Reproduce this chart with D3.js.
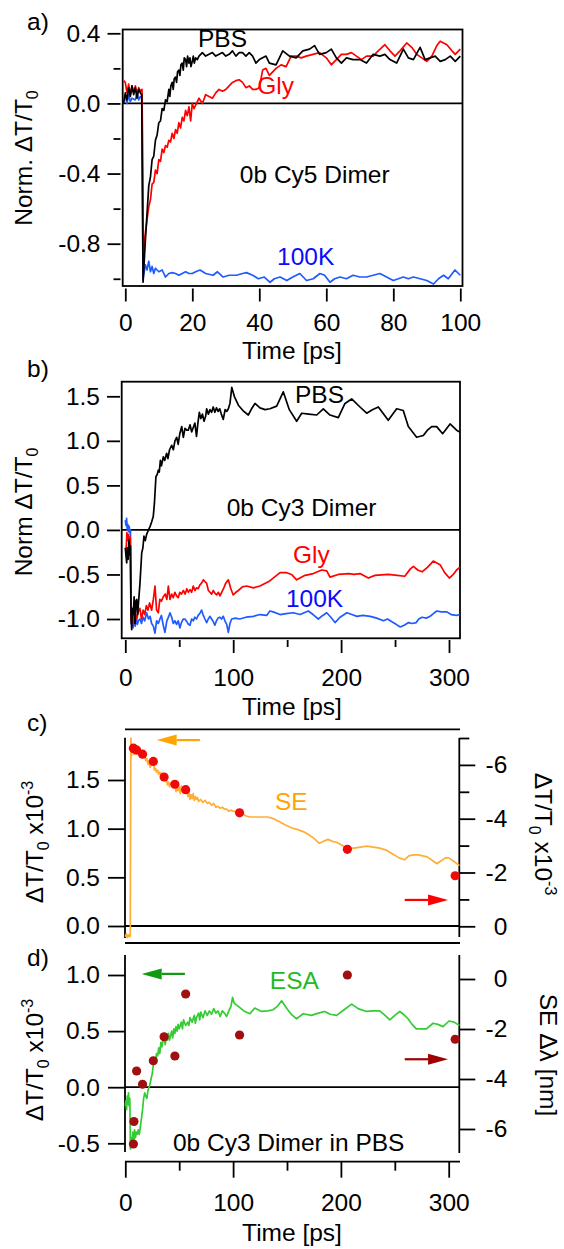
<!DOCTYPE html>
<html>
<head>
<meta charset="utf-8">
<script src="https://cdn.jsdelivr.net/npm/d3@7/dist/d3.min.js"></script>
<style>
body { margin: 0; background: #fff; }
svg text { font-family: "Liberation Sans", Arial, Helvetica, sans-serif; }
</style>
</head>
<body>
<svg id="chart" width="564" height="1249"></svg>
<script>
// ---- panel a) 0b Cy5 dimer, [time ps, norm dT/T0]
var pbsA = [[-0.5,0.0],[0,0.06],[0.5,0.02],[1,0.09],[1.5,0.04],[2,0.1],[2.5,0.05],[3,0.09],[3.5,0.03],[4,0.08],[4.5,0.06],[4.9,0.05],[5.3,-1.02],[6,-0.78],[7,-0.47],[7.5,-0.42],[8,-0.32],[8.5,-0.3],[9,-0.21],[9.5,-0.18],[10,-0.11],[10.5,-0.1],[11,-0.03],[11.5,-0.04],[12,0.02],[12.5,0.01],[13,0.08],[13.3,0.04],[13.6,0.1],[14,0.12],[14.3,0.08],[14.6,0.14],[15,0.15],[15.3,0.12],[15.6,0.18],[16,0.19],[16.3,0.16],[16.6,0.22],[17,0.23],[17.3,0.19],[17.6,0.26],[18,0.25],[18.3,0.21],[18.6,0.27],[19,0.23],[19.3,0.26],[19.6,0.21],[20,0.24],[20.3,0.27],[20.6,0.23],[21,0.26],[21.5,0.25],[22,0.27],[23,0.29],[24,0.27],[25,0.28],[26,0.29],[27,0.27],[28,0.28],[29,0.29],[30,0.27],[31,0.28],[32,0.3],[33,0.27],[34,0.29],[35,0.29],[36,0.27],[37,0.29],[38,0.27],[39,0.23],[40,0.25],[42,0.27],[43,0.23],[45,0.22],[47,0.3],[49,0.27],[51,0.26],[53,0.3],[55,0.31],[56.5,0.33],[58,0.28],[60,0.29],[61.5,0.31],[63,0.26],[64.5,0.23],[66,0.26],[68,0.25],[70,0.25],[72,0.23],[74,0.28],[76,0.27],[77.5,0.28],[79,0.25],[81,0.23],[83,0.31],[84.5,0.26],[86,0.25],[88,0.32],[89.5,0.25],[91,0.26],[92.5,0.27],[94,0.24],[95.5,0.25],[97,0.27],[98.5,0.24],[100,0.27]];
var glyA = [[-0.5,0.13],[0,0.12],[0.5,0.06],[1,0.11],[1.5,0.05],[2,0.1],[2.5,0.06],[3,0.1],[3.5,0.05],[4,0.09],[4.5,0.07],[5,0.08],[5.4,-0.85],[6,-0.74],[6.5,-0.66],[7,-0.59],[7.5,-0.55],[8,-0.46],[8.5,-0.45],[9,-0.38],[9.5,-0.4],[10,-0.32],[10.5,-0.33],[11,-0.26],[11.5,-0.28],[12,-0.24],[12.5,-0.25],[13,-0.21],[13.5,-0.22],[14,-0.17],[14.5,-0.2],[15,-0.15],[15.5,-0.17],[16,-0.11],[16.5,-0.14],[17,-0.08],[17.5,-0.1],[18,-0.04],[18.5,-0.07],[19,-0.02],[19.5,-0.1],[20,0.0],[20.5,-0.03],[21,-0.01],[22,0.03],[23,0.0],[24,0.05],[25,0.04],[26,0.03],[27,0.06],[28,0.08],[29,0.07],[30,0.08],[31,0.1],[32,0.12],[33,0.13],[34,0.135],[35,0.12],[36,0.09],[37,0.1],[38,0.08],[39,0.08],[40,0.09],[41,0.19],[42,0.2],[43,0.16],[44,0.18],[45,0.2],[46.5,0.22],[48,0.21],[49.5,0.27],[51,0.27],[52.5,0.26],[54,0.27],[56,0.28],[58,0.29],[60,0.26],[61.5,0.22],[63,0.25],[64.5,0.28],[66,0.28],[67.5,0.29],[69,0.27],[70.5,0.25],[72,0.27],[74,0.27],[75.5,0.3],[77.5,0.335],[79,0.3],[80.5,0.27],[82,0.3],[84,0.345],[85.5,0.32],[87,0.28],[88.5,0.26],[90,0.24],[91.5,0.27],[93,0.33],[94,0.355],[96,0.335],[97.5,0.3],[98.5,0.28],[100,0.31]];
var k100A = [[-0.5,0.02],[0,0.04],[0.5,0.0],[1,0.05],[1.5,0.01],[2,0.03],[3,0.02],[3.5,0.06],[4,0.02],[4.5,0.04],[5,0.03],[5.3,-1.0],[6,-0.92],[6.5,-0.95],[7,-0.9],[7.5,-0.96],[8,-0.93],[8.5,-0.97],[9,-0.94],[10,-0.96],[11,-0.95],[12,-0.99],[13,-0.97],[14,-0.965],[15,-0.97],[16,-0.98],[17,-0.97],[18,-0.96],[19,-0.97],[20,-0.97],[21,-0.96],[22.3,-0.95],[24,-0.97],[26.2,-0.98],[27.5,-0.96],[29.2,-0.99],[31,-0.98],[33.2,-0.98],[35,-0.97],[36.2,-0.965],[38,-0.98],[39.7,-1.0],[41.5,-0.99],[43.2,-1.02],[44.5,-1.0],[46.2,-0.99],[48.2,-1.01],[50,-0.99],[52.1,-0.97],[54.1,-1.01],[56.1,-1.0],[58.1,-0.97],[59.5,-0.98],[61.1,-1.02],[62.5,-1.0],[64.1,-0.99],[66,-1.0],[68,-0.98],[70,-0.99],[72,-0.99],[74,-0.98],[76,-0.97],[78,-0.99],[80,-1.01],[81.5,-1.0],[83,-0.99],[84.5,-1.0],[86,-0.99],[88,-1.0],[90,-1.01],[92,-1.03],[93.5,-1.0],[95,-0.98],[96.4,-1.0],[98.4,-0.95],[100,-0.98]];

// ---- panel b) 0b Cy3 dimer
var pbsB = [[0,-0.2],[0.7,-0.3],[1.3,-0.37],[2,-0.2],[2.7,-0.33],[3.4,-0.11],[4.1,-0.28],[4.8,-0.18],[5.3,-0.95],[5.9,-1.12],[6.6,-0.88],[7.4,-0.95],[8.2,-0.75],[9,-1.05],[9.8,-0.8],[10.6,-0.78],[11.4,-0.95],[12.2,-0.82],[13.6,-0.6],[15.2,-0.26],[16.3,-0.2],[17.3,-0.07],[18.5,-0.12],[19.8,-0.05],[21.5,0.0],[23,0.04],[24.4,0.09],[25.9,0.15],[27,0.3],[28.4,0.6],[29.5,0.62],[30.6,0.67],[31.5,0.65],[32.5,0.78],[33.5,0.72],[35.2,0.82],[36.5,0.78],[38.3,0.86],[39.5,0.8],[41,0.9],[43,0.95],[44.5,0.9],[46,1.0],[47.6,1.04],[49,0.96],[50.5,1.08],[52.3,1.16],[53.8,1.04],[55.3,1.14],[57,1.12],[58.4,1.12],[60,1.18],[61.5,1.1],[63,1.15],[64.5,1.2],[66,1.05],[67.3,1.2],[68.6,1.32],[70,1.25],[71.5,1.3],[73,1.22],[74.5,1.28],[75.4,1.36],[77,1.3],[78.5,1.35],[80,1.32],[81.5,1.38],[83,1.32],[84.5,1.37],[86,1.33],[87.5,1.36],[89,1.3],[90.8,1.24],[92.5,1.35],[94,1.33],[95.5,1.36],[97,1.42],[98.7,1.6],[101,1.5],[104.8,1.4],[109,1.34],[114,1.29],[117,1.36],[120.2,1.42],[124.8,1.37],[129.5,1.35],[134,1.36],[140.3,1.39],[146.4,1.55],[152,1.35],[158.8,1.22],[163.5,1.31],[170,1.3],[177.4,1.29],[183.5,1.36],[189.7,1.29],[197.4,1.26],[203.6,1.42],[209.8,1.47],[217.5,1.38],[223.7,1.31],[229,1.35],[234.5,1.38],[243.7,1.23],[251.5,1.36],[257.6,1.34],[262.3,1.16],[270,1.04],[276.2,1.06],[280,1.12],[284,1.16],[288.6,1.16],[294.1,1.08],[301,1.19],[307,1.12],[310,1.1]];
var glyB = [[0,-0.2],[0.8,-0.22],[1.5,-0.03],[2.2,-0.12],[3,-0.05],[3.8,-0.18],[4.5,-0.08],[5.3,-1.0],[6,-1.05],[7.4,-0.9],[8.5,-1.05],[9.5,-0.95],[10.6,-1.0],[12,-0.92],[13.5,-0.88],[15,-1.0],[16.5,-0.9],[18,-0.95],[19.5,-0.85],[21,-0.9],[22.5,-0.82],[24.4,-0.9],[26,-0.78],[27.5,-0.63],[29,-0.9],[30.6,-0.93],[32,-0.78],[33.5,-0.8],[35.2,-0.75],[37,-0.72],[38.5,-0.78],[39.9,-0.63],[41.4,-0.78],[43,-0.72],[44.5,-0.76],[46,-0.7],[47.5,-0.74],[49.1,-0.76],[50.5,-0.7],[52,-0.72],[53.8,-0.68],[55.5,-0.72],[57,-0.66],[58.4,-0.7],[60,-0.67],[61.5,-0.7],[63,-0.63],[64.5,-0.68],[66,-0.65],[67.6,-0.66],[69,-0.62],[70.5,-0.6],[72.3,-0.56],[73.8,-0.58],[75.4,-0.6],[77,-0.68],[78.5,-0.7],[80,-0.72],[81.5,-0.68],[83,-0.71],[84.7,-0.73],[86.3,-0.7],[87.8,-0.74],[89.3,-0.7],[91,-0.66],[93,-0.6],[95.5,-0.56],[97.5,-0.65],[100,-0.73],[102.5,-0.7],[104.8,-0.68],[108.5,-0.64],[112.5,-0.63],[118.7,-0.65],[124.8,-0.63],[133,-0.58],[143.4,-0.48],[149.6,-0.48],[154,-0.5],[158.8,-0.56],[166.6,-0.51],[174.3,-0.49],[182,-0.45],[186.7,-0.46],[189.7,-0.53],[197.4,-0.5],[207,-0.49],[212,-0.5],[217.5,-0.49],[225.2,-0.54],[231.4,-0.51],[243.7,-0.5],[252,-0.51],[259,-0.52],[264,-0.44],[267,-0.41],[271,-0.45],[275,-0.47],[280,-0.42],[285.4,-0.35],[291.7,-0.39],[296,-0.48],[300.3,-0.54],[304,-0.5],[307,-0.45],[310,-0.42]];
var k100B = [[0,0.11],[0.6,0.05],[1.2,0.13],[1.8,0.0],[2.4,0.06],[3,-0.02],[3.6,0.04],[4.2,-0.03],[4.8,0.0],[5.4,-1.05],[6.3,-0.98],[7.2,-1.1],[8.2,-1.0],[9.2,-1.08],[10.2,-0.98],[11.2,-1.06],[12.2,-1.02],[13.6,-1.0],[15,-1.05],[16.5,-0.98],[18,-1.02],[19.8,-0.93],[21.5,-1.0],[23,-0.97],[24.4,-1.05],[26,-1.08],[27.5,-1.16],[29,-1.02],[30.6,-1.05],[32.1,-1.0],[33.5,-0.96],[35,-1.06],[36.7,-1.15],[38.5,-1.02],[40,-0.98],[41.4,-0.93],[43,-0.98],[44.5,-1.05],[46,-1.02],[47.5,-1.06],[49,-1.02],[50.6,-1.1],[52,-1.04],[53.8,-1.0],[55.3,-1.0],[57,-1.03],[58.5,-1.06],[59.9,-1.07],[61.5,-1.0],[63,-1.02],[64.5,-0.98],[66,-1.0],[67.5,-0.96],[69,-0.94],[70.7,-0.9],[72.3,-0.96],[73.8,-1.0],[75.4,-1.04],[76.9,-1.0],[78.4,-0.97],[80,-1.0],[81.5,-1.03],[83,-1.07],[84.5,-1.02],[86,-0.99],[87.7,-0.98],[89.2,-1.0],[90.8,-0.97],[92.3,-1.02],[94,-1.06],[95.5,-1.15],[97,-1.05],[98.6,-1.0],[102,-0.99],[106,-1.0],[112,-0.98],[118.7,-0.97],[124.8,-0.95],[131,-0.96],[134,-0.91],[137,-0.92],[143.4,-0.95],[149,-0.94],[155.7,-0.93],[162,-0.95],[169.6,-0.91],[174,-0.95],[178.9,-1.0],[183,-0.96],[186.7,-0.93],[190.5,-0.98],[194.4,-1.04],[199,-0.98],[205.4,-0.93],[210,-0.95],[214.6,-0.97],[220,-0.96],[227,-0.97],[233,-0.99],[239.3,-1.02],[243,-1.0],[247,-1.03],[251,-1.06],[254.8,-1.09],[258.5,-1.07],[262.5,-1.04],[266,-1.05],[269.6,-1.04],[272,-1.0],[275,-0.98],[279,-0.99],[282.5,-0.97],[285.5,-0.94],[288.7,-0.91],[293,-0.92],[298,-0.92],[302,-0.95],[307,-0.96],[310,-0.95]];

// ---- panel c) SE trace (left axis, x1e-3) and SE amplitude points (right axis, x1e-3)
var seC = [[0,-0.11],[1,-0.08],[2,-0.12],[3,-0.09],[4,-0.11],[4.6,-0.1],[5.2,1.93],[5.8,1.75],[6.4,1.86],[7,1.79],[7.6,1.84],[8.2,1.76],[8.8,1.83],[9.5,1.8],[10.5,1.82],[11.5,1.78],[12.5,1.8],[13.5,1.76],[14.5,1.78],[16,1.77],[17,1.73],[18,1.75],[19,1.7],[20,1.72],[21,1.66],[22,1.7],[23,1.63],[24,1.66],[25,1.68],[26,1.69],[27,1.6],[28,1.62],[29,1.58],[30,1.6],[31,1.56],[32,1.58],[33,1.55],[34,1.57],[35,1.54],[36,1.52],[37,1.49],[38,1.51],[39,1.45],[40,1.48],[41,1.43],[42,1.47],[43,1.46],[44,1.42],[45,1.47],[46,1.46],[47,1.38],[48,1.42],[49,1.39],[50,1.43],[51,1.36],[52,1.44],[53,1.41],[54,1.37],[55,1.42],[56,1.4],[57,1.44],[58,1.33],[59,1.38],[60,1.3],[61,1.35],[62,1.31],[63,1.36],[64,1.29],[65,1.33],[66,1.3],[67,1.32],[68,1.28],[70,1.3],[72,1.27],[74,1.29],[76,1.26],[78,1.27],[80,1.24],[82,1.26],[84,1.22],[86,1.23],[88,1.21],[90,1.22],[92,1.2],[94,1.2],[96,1.18],[98,1.19],[100,1.18],[104,1.17],[108,1.16],[112,1.13],[116,1.12],[120,1.12],[126,1.12],[132,1.12],[138,1.1],[143,1.07],[148,1.04],[154,1.01],[160,0.99],[165,0.97],[170,0.94],[175,0.9],[180,0.85],[184,0.87],[188,0.89],[192,0.87],[196,0.86],[201,0.83],[206,0.8],[212,0.8],[218,0.81],[224,0.82],[230,0.81],[236,0.8],[242,0.78],[248,0.74],[254,0.7],[259,0.68],[263,0.72],[267,0.73],[272,0.73],[276,0.72],[280,0.71],[284,0.68],[289,0.64],[293,0.67],[297,0.7],[300,0.7],[304,0.67],[310,0.62]];
var dotT = [7.5, 8, 10.5, 16, 26, 36, 46, 56, 106, 206, 306];
var seAmpC = [-6.62, -6.6, -6.55, -6.4, -6.13, -5.55, -5.28, -5.08, -4.22, -2.86, -1.88];

// ---- panel d) ESA trace (left axis, x1e-3) and SE shift points (right axis, nm)
var esaD = [[0,-0.17],[0.6,-0.12],[1.2,-0.2],[1.8,-0.08],[2.4,-0.15],[3,-0.05],[3.6,-0.17],[4.2,-0.1],[4.8,-0.55],[5.5,-0.45],[6.2,-0.52],[7,-0.4],[7.8,-0.5],[8.6,-0.38],[9.4,-0.45],[10.2,-0.4],[11,-0.42],[12,-0.38],[13,-0.42],[14,-0.35],[15,-0.28],[16,-0.2],[17,-0.1],[18,-0.05],[19,-0.08],[20,-0.1],[21,-0.03],[22,0.0],[23,0.03],[24,0.08],[25,0.12],[26,0.2],[27,0.25],[28,0.22],[29,0.3],[30,0.28],[31,0.35],[32,0.3],[33,0.4],[34,0.36],[35,0.42],[36,0.45],[37,0.38],[38,0.44],[39,0.42],[40,0.48],[41,0.42],[42,0.46],[43,0.5],[44,0.44],[45,0.52],[46,0.48],[47,0.54],[48,0.5],[49,0.56],[50,0.52],[52,0.58],[53,0.52],[54,0.6],[56,0.55],[58,0.58],[59,0.55],[60,0.62],[62,0.58],[64,0.64],[65,0.57],[66,0.62],[68,0.66],[69,0.6],[70,0.67],[72,0.62],[74,0.68],[76,0.64],[78,0.68],[80,0.65],[82,0.7],[84,0.66],[86,0.68],[88,0.63],[90,0.68],[92,0.66],[94,0.63],[96,0.68],[98,0.72],[99.5,0.8],[101,0.75],[104.8,0.72],[110,0.68],[115.6,0.655],[120,0.705],[126.4,0.675],[132,0.68],[137,0.69],[141,0.72],[145,0.77],[150,0.7],[154,0.65],[158.8,0.61],[165,0.655],[172.7,0.64],[179,0.66],[185,0.675],[190,0.65],[196,0.64],[203,0.69],[210,0.74],[216,0.7],[223.7,0.675],[230,0.68],[236,0.68],[241,0.64],[245.4,0.6],[250,0.64],[254.6,0.675],[258,0.65],[262.3,0.61],[266,0.56],[270,0.52],[275,0.52],[279.3,0.52],[285.5,0.57],[290,0.56],[294.7,0.54],[300.3,0.59],[305,0.58],[310,0.55]];
var seShiftD = [-6.6, -5.7, -3.68, -4.21, -3.27, -2.31, -3.08, -0.6, -2.24, 0.16, -2.41];

// ticks
var ticksAx = [0, 20, 40, 60, 80, 100];
var ticksAy = [0.4, 0.0, -0.4, -0.8];
var ticksAyMinor = [0.2, -0.2, -0.6, -1.0];
var ticksBy = [1.5, 1.0, 0.5, 0.0, -0.5, -1.0];
var ticksTime = [0, 100, 200, 300];
var ticksTimeMinor = [50, 150, 250];
var ticksCy = [0.0, 0.5, 1.0, 1.5];
var ticksCr = [0, -2, -4, -6];
var ticksCrMinor = [-1, -3, -5, -7];
var ticksDy = [-0.5, 0.0, 0.5, 1.0];
var ticksDr = [0, -2, -4, -6];

var svg = d3.select("#chart");
var FONT = "Liberation Sans, Arial, Helvetica, sans-serif";
var FS = 24.5;
var LW = 1.7;

function fmt1(d) { return d.toFixed(1); }
function fmt0(d) { return d.toFixed(0); }

function styleAxis(g) {
    g.select(".domain").remove();
    g.selectAll("line").attr("stroke", "#000").attr("stroke-width", 1.8);
    g.selectAll("text").attr("font-size", FS).attr("font-family", FONT).attr("fill", "#000");
    return g;
}

function trace(data, x, y, color) {
    svg.append("path").datum(data)
        .attr("fill", "none")
        .attr("stroke", color)
        .attr("stroke-width", LW)
        .attr("stroke-linejoin", "round")
        .attr("d", d3.line().x(function(d) { return x(d[0]); }).y(function(d) { return y(d[1]); }));
}

function hline(x1, x2, y) {
    svg.append("line").attr("x1", x1).attr("x2", x2).attr("y1", y).attr("y2", y)
        .attr("stroke", "#000").attr("stroke-width", 1.8);
}
function vline(x, y1, y2) {
    svg.append("line").attr("x1", x).attr("x2", x).attr("y1", y1).attr("y2", y2)
        .attr("stroke", "#000").attr("stroke-width", 1.8);
}

function label(txt, x, y, color, anchor) {
    return svg.append("text").attr("x", x).attr("y", y)
        .attr("font-size", FS).attr("fill", color || "#000")
        .attr("text-anchor", anchor || "start").text(txt);
}

// arrow: tail at x1, tip at x2
function arrow(x1, x2, y, color) {
    var dir = x2 > x1 ? 1 : -1;
    var hl = 20, hw = 5.5;
    svg.append("line").attr("x1", x1).attr("x2", x2 - dir * hl).attr("y1", y).attr("y2", y)
        .attr("stroke", color).attr("stroke-width", 2.2);
    svg.append("path")
        .attr("d", "M" + x2 + "," + y + "L" + (x2 - dir * hl) + "," + (y - hw) + "L" + (x2 - dir * hl) + "," + (y + hw) + "Z")
        .attr("fill", color);
}

// rotated axis title; parts = [[text, dy, size], ...]
function vtitle(cx, cy, angle, parts) {
    var t = svg.append("text")
        .attr("transform", "translate(" + cx + "," + cy + ") rotate(" + angle + ")")
        .attr("text-anchor", "middle").attr("font-size", FS).attr("fill", "#000");
    parts.forEach(function(p) {
        t.append("tspan").attr("dy", p[1]).attr("font-size", p[2] || FS).text(p[0]);
    });
}

function panelLetter(txt, y) {
    svg.append("text").attr("x", 27).attr("y", y).attr("font-size", FS).attr("fill", "#000").text(txt);
}

// ================= panel a =================
var xA = d3.scaleLinear().domain([0, 100]).range([125.3, 460.3]);
var yA = d3.scaleLinear().domain([0.4, -0.8]).range([33.3, 243.7]);

svg.append("rect").attr("x", 122.7).attr("y", 29.5).attr("width", 339.8).attr("height", 256.5)
    .attr("fill", "none").attr("stroke", "#000").attr("stroke-width", 1.8);
hline(122.7, 462.5, yA(0));

styleAxis(svg.append("g").attr("transform", "translate(120.5,0)")
    .call(d3.axisLeft(yA).tickValues(ticksAy).tickSize(13).tickPadding(7).tickFormat(fmt1)));
styleAxis(svg.append("g").attr("transform", "translate(120.5,0)")
    .call(d3.axisLeft(yA).tickValues(ticksAyMinor).tickSize(7).tickFormat("")));
styleAxis(svg.append("g").attr("transform", "translate(0,288.5)")
    .call(d3.axisBottom(xA).tickValues(ticksAx).tickSize(13).tickPadding(12).tickFormat(fmt0)));

trace(k100A, xA, yA, "#1f5bff");
trace(glyA, xA, yA, "#ff0000");
trace(pbsA, xA, yA, "#000");

label("PBS", xA(21.7), yA(0.324));
label("Gly", xA(39.4), yA(0.055), "#ff0000");
label("0b Cy5 Dimer", xA(34.2), yA(-0.453));
label("100K", xA(45.3), yA(-0.92), "#0a0aff");

label("Time [ps]", 292, 359, "#000", "middle");
vtitle(32, 158, -90, [["Norm. \u0394T/T", 0], ["0", 6, 16]]);
panelLetter("a)", 30);

// ================= panel b =================
var xB = d3.scaleLinear().domain([0, 300]).range([125.3, 449]);
var yB = d3.scaleLinear().domain([1.5, -1.0]).range([396.3, 619]);

svg.append("rect").attr("x", 121.7).attr("y", 381.7).attr("width", 338.3).attr("height", 256.6)
    .attr("fill", "none").attr("stroke", "#000").attr("stroke-width", 1.8);
hline(121.7, 460, yB(0));

styleAxis(svg.append("g").attr("transform", "translate(120,0)")
    .call(d3.axisLeft(yB).tickValues(ticksBy).tickSize(13).tickPadding(7).tickFormat(fmt1)));
styleAxis(svg.append("g").attr("transform", "translate(0,640)")
    .call(d3.axisBottom(xB).tickValues(ticksTime).tickSize(13).tickPadding(16).tickFormat(fmt0)));
styleAxis(svg.append("g").attr("transform", "translate(0,640)")
    .call(d3.axisBottom(xB).tickValues(ticksTimeMinor).tickSize(7).tickFormat("")));

trace(k100B, xB, yB, "#1f5bff");
trace(glyB, xB, yB, "#ff0000");
trace(pbsB, xB, yB, "#000");

label("PBS", xB(157.3), yB(1.43));
label("0b Cy3 Dimer", xB(94), yB(0.157));
label("Gly", xB(155.4), yB(-0.37), "#ff0000");
label("100K", xB(148.9), yB(-0.86), "#0a0aff");

label("Time [ps]", 292, 715, "#000", "middle");
vtitle(32, 512, -90, [["Norm \u0394T/T", 0], ["0", 6, 16]]);
panelLetter("b)", 377);

// ================= panel c =================
var xC = d3.scaleLinear().domain([0, 300]).range([125.3, 448.7]);
var yC = d3.scaleLinear().domain([1.5, 0]).range([780, 926]);
var yCr = d3.scaleLinear().domain([0, -7]).range([926.3, 738]);

hline(125, 460, 729.3);
vline(125, 737.7, 938);
vline(459.3, 738, 937);
hline(125, 459.3, yC(0));

styleAxis(svg.append("g").attr("transform", "translate(125,0)")
    .call(d3.axisLeft(yC).tickValues(ticksCy).tickSize(17).tickPadding(8).tickFormat(fmt1)));
var rc = styleAxis(svg.append("g").attr("transform", "translate(459.3,0)")
    .call(d3.axisRight(yCr).tickValues(ticksCr).tickSize(16).tickFormat(fmt0)));
rc.selectAll("text").attr("text-anchor", "end").attr("x", 48);
styleAxis(svg.append("g").attr("transform", "translate(459.3,0)")
    .call(d3.axisRight(yCr).tickValues(ticksCrMinor).tickSize(10).tickFormat("")));

trace(seC, xC, yC, "#ffae35");
svg.append("g").selectAll("circle").data(dotT).enter().append("circle")
    .attr("cx", function(d) { return xC(d); })
    .attr("cy", function(d, i) { return yCr(seAmpC[i]); })
    .attr("r", 4.6).attr("fill", "#ee0a0a");

label("SE", xC(138.8), yC(1.19), "#ffa500");
arrow(xC(69.2), xC(29.1), yC(1.91), "#ffa500");
arrow(xC(259.2), xC(299.4), yCr(-0.98), "#ff0000");

vtitle(43, 842, -90, [["\u0394T/T", 0], ["0", 6, 16], [" x10", -6], ["-3", -10, 16]]);
vtitle(535, 834, 90, [["\u0394T/T", 0], ["0", 6, 16], [" x10", -6], ["-3", -10, 16]]);
panelLetter("c)", 731);

// ================= panel d =================
var xD = d3.scaleLinear().domain([0, 300]).range([125.3, 448.7]);
var yD = d3.scaleLinear().domain([1.0, -0.5]).range([975, 1143.3]);
var yDr = d3.scaleLinear().domain([0, -6]).range([979, 1129]);

hline(125, 460, 943);
vline(125, 955, 1152);
vline(459.3, 955, 1153);
hline(125, 460, 1161.7);
hline(125, 459.3, yD(0));

styleAxis(svg.append("g").attr("transform", "translate(125,0)")
    .call(d3.axisLeft(yD).tickValues(ticksDy).tickSize(17).tickPadding(8).tickFormat(fmt1)));
var rd = styleAxis(svg.append("g").attr("transform", "translate(459.3,0)")
    .call(d3.axisRight(yDr).tickValues(ticksDr).tickSize(16).tickFormat(fmt0)));
rd.selectAll("text").attr("text-anchor", "end").attr("x", 48);
styleAxis(svg.append("g").attr("transform", "translate(0,1161.7)")
    .call(d3.axisBottom(xD).tickValues(ticksTime).tickSize(16).tickPadding(16).tickFormat(fmt0)));
styleAxis(svg.append("g").attr("transform", "translate(0,1161.7)")
    .call(d3.axisBottom(xD).tickValues(ticksTimeMinor).tickSize(9).tickFormat("")));

trace(esaD, xD, yD, "#33cc33");
svg.append("g").selectAll("circle").data(dotT).enter().append("circle")
    .attr("cx", function(d) { return xD(d); })
    .attr("cy", function(d, i) { return yDr(seShiftD[i]); })
    .attr("r", 4.6).attr("fill", "#a01010");

label("ESA", xD(134.1), yD(0.878), "#22bb22");
label("0b Cy3 Dimer in PBS", xD(44.2), yD(-0.569));
arrow(xD(55.3), xD(15.2), yD(1.01), "#119911");
arrow(xD(259.2), xD(299.4), yDr(-3.21), "#a00000");

label("Time [ps]", 292, 1241, "#000", "middle");
vtitle(43, 1060, -90, [["\u0394T/T", 0], ["0", 6, 16], [" x10", -6], ["-3", -10, 16]]);
vtitle(540, 1055, 90, [["SE \u0394\u03bb [nm]", 0]]);
panelLetter("d)", 966);
</script>
</body>
</html>
